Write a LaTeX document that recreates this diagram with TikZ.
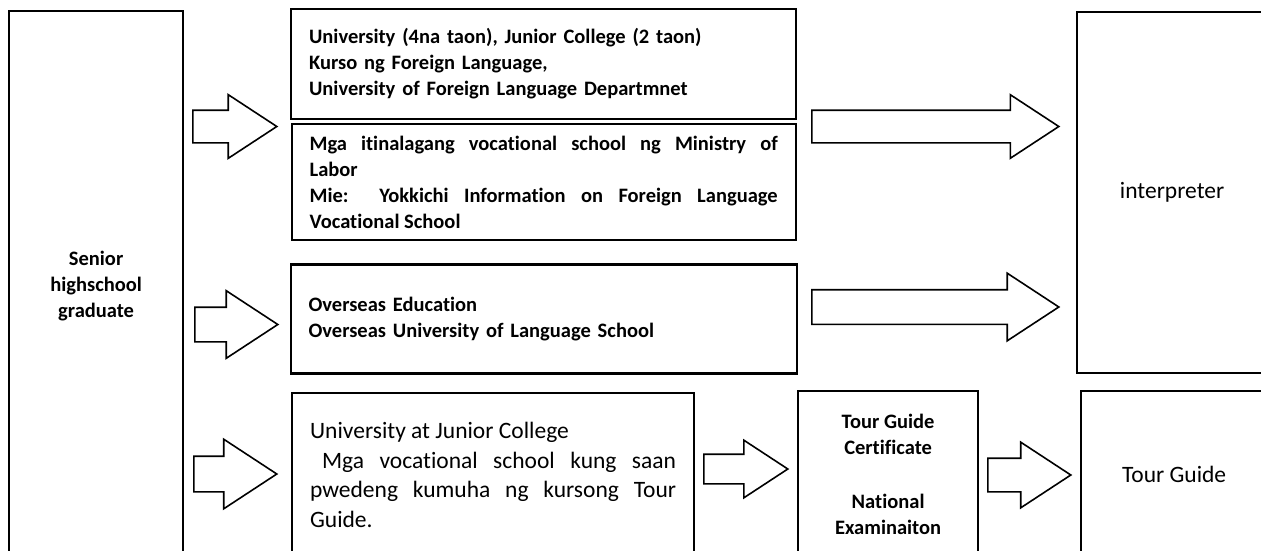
\documentclass[tikz,border=0pt]{standalone}
\usepackage{fontspec}
\setmainfont[Ligatures=NoCommon]{Carlito}
\usepackage{tikz}
\usetikzlibrary{shapes.arrows,positioning}
\setlength{\parindent}{0pt}
\tikzset{
  stepbox/.style={draw=black,line width=2.2pt,fill=white,inner xsep=18pt,inner ysep=6pt,font=\fontsize{20.5}{26}\selectfont\bfseries},
  widebox/.style={stepbox,anchor=north west,text width=#1,align=left},
  bigbox/.style={stepbox,anchor=north west,align=center},
  plainfont/.style={font=\fontsize{23.5}{29.5}\selectfont},
  blockarrow/.style 2 args={single arrow,draw=black,line width=1.6pt,fill=white,inner xsep=0pt,inner ysep=#2,single arrow head extend=#2,single arrow tip angle=66.5,minimum height=#1,anchor=tail}
}

\begin{document}
\begin{tikzpicture}[x=1pt,y=-1pt]
  \useasboundingbox (0,0) rectangle (1261,551);
  \clip (0,0) rectangle (1261,551);
  \fill[white] (0,0) rectangle (1261,551);
  \node[bigbox,minimum width=174pt,minimum height=550pt] (grad) at (8,10) {Senior\\highschool\\graduate};
  \node[widebox=469pt,minimum height=110pt] (uni) at (290,8) {University (4na taon), Junior College (2 taon)\\Kurso ng Foreign Language,\\University of Foreign Language Departmnet};
  \node[stepbox,text width=468pt,align=justify,minimum height=116pt,below=3pt of uni] (voc) {Mga itinalagang vocational school ng Ministry of\linebreak Labor\par Mie:\ \ Yokkichi Information on Foreign Language\linebreak Vocational School};
  \node[widebox=470pt,minimum height=109pt,below=22pt of voc] (abroad) {Overseas Education\\Overseas University of Language School};
  \node[stepbox,plainfont,anchor=north west,text width=366pt,align=justify,minimum height=164pt] (course) at (291,392) {University at Junior College\par\hspace*{12pt}Mga vocational school kung saan\linebreak pwedeng kumuha ng kursong Tour\linebreak Guide.};
  \node[bigbox,minimum width=180pt,minimum height=166pt] (cert) at (797,390) {Tour Guide\\Certificate\\[28pt]National\\Examinaiton};
  \node[bigbox,plainfont,minimum width=190pt,minimum height=361pt] (interp) at (1076,11) {interpreter};
  \node[bigbox,plainfont,minimum width=186pt,minimum height=166pt] (guide) at (1080,390) {Tour Guide};
  % block arrows
  \node[blockarrow={84pt}{15.5pt}] (a1) at (192,126.5) {};
  \node[blockarrow={83pt}{16.5pt}] (a2) at (194,324.5) {};
  \node[blockarrow={83pt}{17pt}] (a3) at (193,474) {};
  \node[blockarrow={247pt}{15.5pt}] (a4) at (811,126.5) {};
  \node[blockarrow={247pt}{16.5pt}] (a5) at (811,307) {};
  \node[blockarrow={84pt}{14pt}] (a6) at (703,469) {};
  \node[blockarrow={83pt}{16pt}] (a7) at (987,475) {};
\end{tikzpicture}
\end{document}
